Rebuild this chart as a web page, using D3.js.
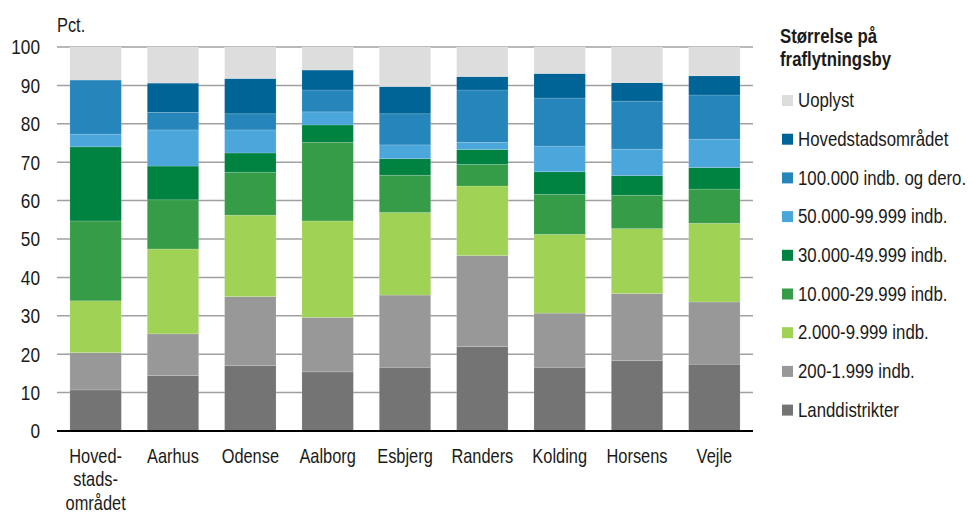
<!DOCTYPE html>
<html><head><meta charset="utf-8">
<script src="https://cdn.jsdelivr.net/npm/d3@7"></script>
<style>body{margin:0;background:#fff}svg{display:block}text{font-family:"Liberation Sans Narrow","Arial Narrow","Liberation Sans",Arial,sans-serif;fill:#1a1a1a}</style>
</head><body><svg id="c" width="973" height="514"></svg>
<script>
const categories = ["Hoved-|stads-|området","Aarhus","Odense","Aalborg","Esbjerg","Randers","Kolding","Horsens","Vejle"];
const seriesNames = ["Landdistrikter","200-1.999 indb.","2.000-9.999 indb.","10.000-29.999 indb.","30.000-49.999 indb.","50.000-99.999 indb.","100.000 indb. og dero.","Hovedstadsområdet","Uoplyst"];
const seriesColors = ["#747474","#989898","#a0d255","#379c48","#008340","#4ba6dc","#2685bb","#006496","#dddddd"];
const landdistrikter = [10.7,14.4,17.0,15.4,16.6,22.0,16.6,18.3,17.4];
const indb200 = [9.7,10.9,18.0,14.2,18.8,23.7,14.1,17.5,16.2];
const indb2000 = [13.5,22.1,21.2,25.1,21.5,18.1,20.5,16.9,20.5];
const indb10000 = [20.8,12.8,11.2,20.5,9.7,5.6,10.4,8.7,8.9];
const indb30000 = [19.3,8.8,5.0,4.5,4.3,3.9,5.9,5.1,5.6];
const indb50000 = [3.3,9.4,6.0,3.4,3.6,1.9,6.7,6.9,7.4];
const indb100000 = [14.1,4.6,4.2,5.7,8.1,13.6,12.5,12.5,11.5];
const hovedstad = [0,7.6,9.2,5.2,7.1,3.5,6.4,4.8,5.0];
const uoplyst = [8.6,9.4,8.2,6.0,10.3,7.7,6.9,9.3,7.5];
const yTicks = [0,10,20,30,40,50,60,70,80,90,100];

const seriesValues = [landdistrikter,indb200,indb2000,indb10000,indb30000,indb50000,indb100000,hovedstad,uoplyst];
const rows = categories.map((c,i)=>{const o={cat:c};seriesNames.forEach((s,j)=>o[s]=seriesValues[j][i]);return o;});
const stack = d3.stack().keys(seriesNames)(rows);

const svg = d3.select("#c");
const SX = 0.82;
function ntext(sel, x, y){ return sel.attr("transform",`translate(${x},${y}) scale(${SX},1)`); }

const L=57,R=753,T=47,B=431;
const x = d3.scaleBand().domain(categories).range([L,R]).paddingInner(0.335).paddingOuter(0.167);
const y = d3.scaleLinear().domain([0,100]).range([B,T]);

// gridlines
svg.append("g").selectAll("line").data(yTicks.filter(d=>d>0)).join("line")
  .attr("x1",L).attr("x2",R).attr("y1",d=>y(d)).attr("y2",d=>y(d))
  .attr("stroke","#a0a0a0").attr("stroke-width",1.5);

// y labels
svg.append("g").selectAll("text").data(yTicks).join("text")
  .each(function(d){ ntext(d3.select(this),40,y(d)); })
  .attr("dy","0.35em").attr("text-anchor","end").attr("font-size",21).text(d=>d);
ntext(svg.append("text"),57,32).attr("font-size",20).text("Pct.");

// bars
svg.append("g").selectAll("g").data(stack).join("g").attr("fill",(d,i)=>seriesColors[i])
  .selectAll("rect").data(d=>d).join("rect")
  .attr("x",d=>x(d.data.cat)).attr("width",x.bandwidth())
  .attr("y",d=>y(d[1])).attr("height",d=>Math.max(0,y(d[0])-y(d[1])))
  .attr("stroke","rgba(255,255,255,0.25)").attr("stroke-width",0.6);

// baseline
svg.append("line").attr("x1",L).attr("x2",R).attr("y1",B).attr("y2",B).attr("stroke","#000").attr("stroke-width",2);

// x labels
const xl = svg.append("g").selectAll("text").data(categories).join("text")
  .each(function(d){ ntext(d3.select(this), x(d)+x.bandwidth()/2, 463); })
  .attr("text-anchor","middle").attr("font-size",20);
xl.each(function(d){const t=d3.select(this);d.split("|").forEach((p,k)=>t.append("tspan").attr("x",0).attr("dy",k?"1.17em":0).text(p));});

// legend
const lg = svg.append("g");
ntext(lg.append("text"),780,43).attr("font-size",20.5).attr("font-weight","bold").text("Størrelse på");
ntext(lg.append("text"),780,66).attr("font-size",20.5).attr("font-weight","bold").text("fraflytningsby");
const order = d3.range(seriesNames.length).reverse();
const li = lg.selectAll("g.it").data(order).join("g").attr("class","it")
  .attr("transform",(d,k)=>`translate(782,${100+k*38.7})`);
li.append("rect").attr("x",0).attr("y",-5).attr("width",11).attr("height",11).attr("fill",d=>seriesColors[d]);
li.append("text").attr("transform",`translate(16,0) scale(${SX},1)`).attr("dy","0.35em").attr("font-size",20.5).text(d=>seriesNames[d]);
</script></body></html>
